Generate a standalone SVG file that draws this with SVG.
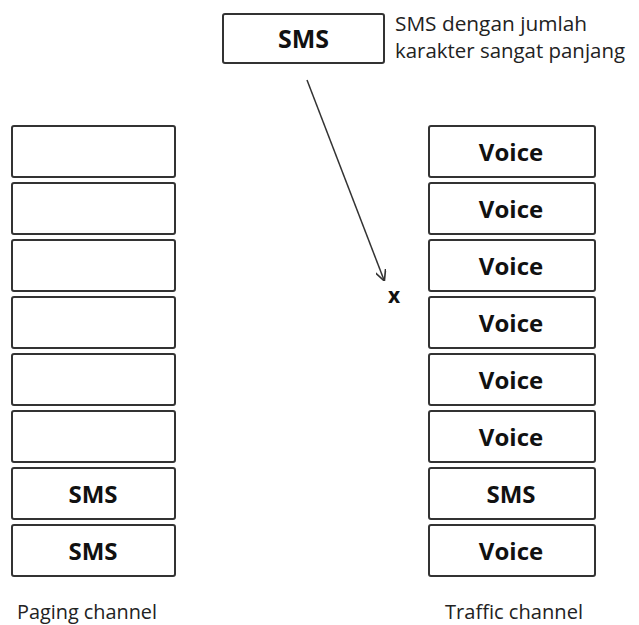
<svg xmlns="http://www.w3.org/2000/svg" width="639" height="625" viewBox="0 0 639 625">
<defs>
<style>
.box{fill:#fff;stroke:#333;stroke-width:2}
.lbl{font-family:"Open Sans","Liberation Sans",sans-serif;font-weight:bold;font-size:24px;fill:#111;text-anchor:middle}
.cap{font-family:"Open Sans","Liberation Sans",sans-serif;font-size:19.5px;fill:#222}
</style>
<marker id="ah" viewBox="0 0 10 10" refX="9" refY="5" markerWidth="11" markerHeight="11" orient="auto" markerUnits="userSpaceOnUse">
<path d="M0,0 L10,5 L0,10" fill="none" stroke="#333" stroke-width="1.5"/>
</marker>
</defs>
<rect width="639" height="625" fill="#fff"/>
<g id="sms-top">
<rect class="box" x="223" y="14" width="161" height="49" rx="2"/>
<text class="lbl" x="303.5" y="48" style="font-size:25px">SMS</text>
</g>
<g id="note">
<text class="cap" x="395" y="31" textLength="192" lengthAdjust="spacingAndGlyphs">SMS dengan jumlah</text>
<text class="cap" x="395" y="58" textLength="230" lengthAdjust="spacingAndGlyphs">karakter sangat panjang</text>
</g>
<g id="paging">
<rect class="box" x="12" y="126" width="163" height="51" rx="2"/>
<rect class="box" x="12" y="183" width="163" height="51" rx="2"/>
<rect class="box" x="12" y="240" width="163" height="51" rx="2"/>
<rect class="box" x="12" y="297" width="163" height="51" rx="2"/>
<rect class="box" x="12" y="354" width="163" height="51" rx="2"/>
<rect class="box" x="12" y="411" width="163" height="51" rx="2"/>
<rect class="box" x="12" y="468" width="163" height="51" rx="2"/>
<text class="lbl" x="93" y="503">SMS</text>
<rect class="box" x="12" y="525" width="163" height="51" rx="2"/>
<text class="lbl" x="93" y="560">SMS</text>
<text class="cap" x="87" y="619" text-anchor="middle" textLength="140" lengthAdjust="spacingAndGlyphs">Paging channel</text>
</g>
<g id="traffic">
<rect class="box" x="429" y="126" width="166" height="51" rx="2"/>
<text class="lbl" x="511" y="161">Voice</text>
<rect class="box" x="429" y="183" width="166" height="51" rx="2"/>
<text class="lbl" x="511" y="218">Voice</text>
<rect class="box" x="429" y="240" width="166" height="51" rx="2"/>
<text class="lbl" x="511" y="275">Voice</text>
<rect class="box" x="429" y="297" width="166" height="51" rx="2"/>
<text class="lbl" x="511" y="332">Voice</text>
<rect class="box" x="429" y="354" width="166" height="51" rx="2"/>
<text class="lbl" x="511" y="389">Voice</text>
<rect class="box" x="429" y="411" width="166" height="51" rx="2"/>
<text class="lbl" x="511" y="446">Voice</text>
<rect class="box" x="429" y="468" width="166" height="51" rx="2"/>
<text class="lbl" x="511" y="503">SMS</text>
<rect class="box" x="429" y="525" width="166" height="51" rx="2"/>
<text class="lbl" x="511" y="560">Voice</text>
<text class="cap" x="514" y="619" text-anchor="middle" textLength="138" lengthAdjust="spacingAndGlyphs">Traffic channel</text>
</g>
<g id="connectors">
<line x1="307" y1="80" x2="384" y2="280" stroke="#333" stroke-width="1.5" marker-end="url(#ah)"/>
</g>
<g id="x-mark">
<text class="lbl" x="394" y="303" style="font-size:21px">x</text>
</g>
</svg>
